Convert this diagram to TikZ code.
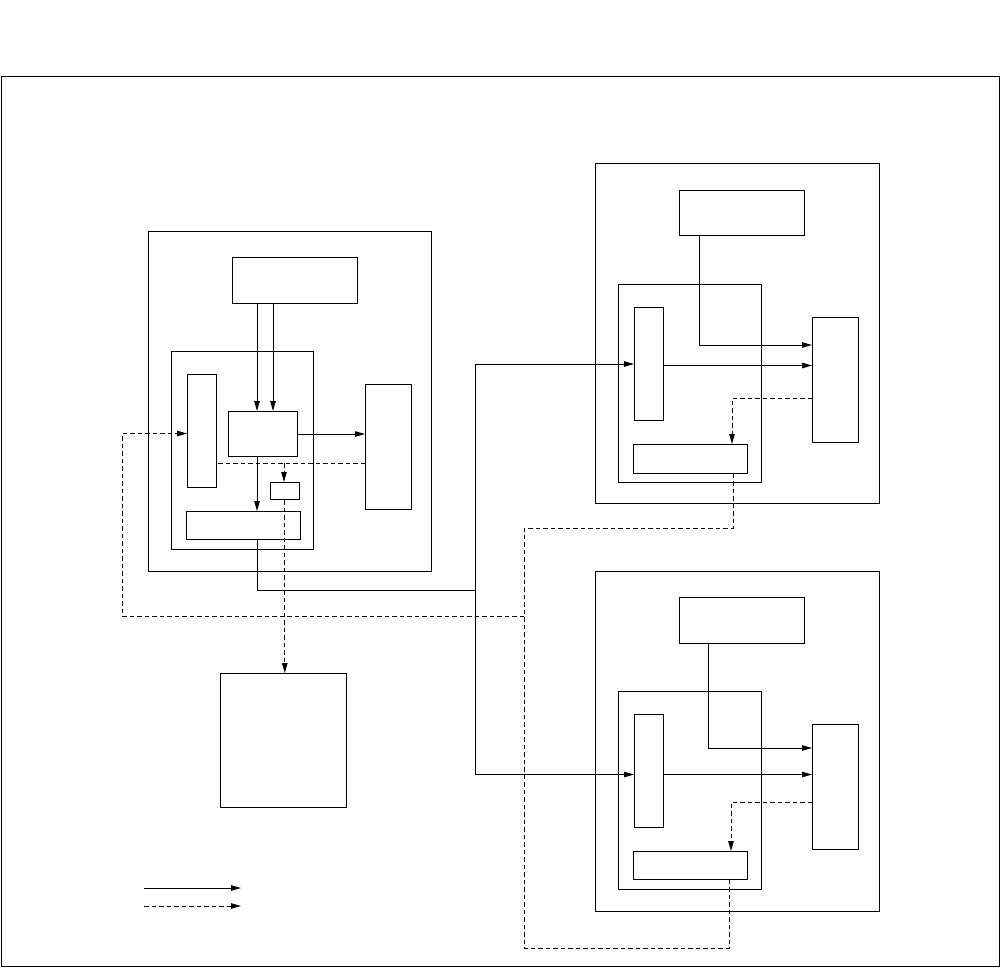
\documentclass[tikz,border=0pt]{standalone}
\usetikzlibrary{arrows.meta}
\begin{document}
\begin{tikzpicture}[x=1pt,y=-1pt,
  box/.style={draw,line width=1pt,inner sep=0pt,anchor=north west},
  conn/.style={line width=1pt},
  arr/.style={conn,-{Triangle[length=10pt,width=5.5pt]}},
  dsh/.style={dash pattern=on 4.5pt off 3pt}]
\useasboundingbox (0,0) rectangle (1000,967);
\node[box,minimum width=998.3pt,minimum height=889.5pt] (frame) at (0.7,76) {};
% left group
\node[box,minimum width=283pt,minimum height=340pt] (L1) at (148,231) {};
\node[box,minimum width=125pt,minimum height=46pt] (Ltop) at (232,257) {};
\node[box,minimum width=142pt,minimum height=198pt] (Lin) at (171,351) {};
\node[box,minimum width=28.5pt,minimum height=113pt] (La) at (187,374) {};
\node[box,minimum width=68.5pt,minimum height=45pt] (Lc) at (228,411) {};
\node[box,minimum width=45.5pt,minimum height=125pt] (Lr) at (365,384) {};
\node[box,minimum width=28.5pt,minimum height=17pt] (Ls) at (270,482) {};
\node[box,minimum width=113.5pt,minimum height=28pt] (Lb) at (186,511) {};
\node[box,minimum width=126pt,minimum height=134pt] (Bl) at (219.5,673) {};
% upper right group
\node[box,minimum width=283.5pt,minimum height=340pt] (U1) at (595,163) {};
\node[box,minimum width=124.5pt,minimum height=45pt] (Utop) at (679,190) {};
\node[box,minimum width=142.5pt,minimum height=198pt] (Uin) at (618,284) {};
\node[box,minimum width=28.5pt,minimum height=113pt] (Ua) at (634,307) {};
\node[box,minimum width=45.5pt,minimum height=124.5pt] (Ur) at (812,317) {};
\node[box,minimum width=113.5pt,minimum height=28.5pt] (Ub) at (633,444) {};
% lower right group
\node[box,minimum width=283.5pt,minimum height=340pt] (D1) at (595,571) {};
\node[box,minimum width=124.5pt,minimum height=46pt] (Dtop) at (679,597) {};
\node[box,minimum width=142.5pt,minimum height=198pt] (Din) at (618,691) {};
\node[box,minimum width=28.5pt,minimum height=113pt] (Da) at (634,714) {};
\node[box,minimum width=45.5pt,minimum height=125pt] (Dr) at (812,724) {};
\node[box,minimum width=113.5pt,minimum height=28pt] (Db) at (633,851) {};
% junction coordinates
\coordinate (lj) at (284,463);
\coordinate (sj) at (475,590);
\coordinate (dj1) at (524,528);
\coordinate (dj2) at (524,948);
\coordinate (dj3) at (524,616);
\coordinate (dl) at (122,616);
\coordinate (lg1a) at (144,888);
\coordinate (lg1b) at (241,888);
\coordinate (lg2a) at (144,906);
\coordinate (lg2b) at (241,906);
% left group connectors
\draw[arr] ([xshift=25pt]Ltop.south west) -- ([xshift=25pt]Ltop.south west |- Lc.north);
\draw[arr] ([xshift=41pt]Ltop.south west) -- ([xshift=41pt]Ltop.south west |- Lc.north);
\draw[arr] (Lc.east) -- (Lc.east -| Lr.west);
\draw[arr] ([xshift=29pt]Lc.south west) -- ([xshift=29pt]Lc.south west |- Lb.north);
\draw[conn,dsh] (lj -| Lr.west) -- (lj -| La.east);
\draw[arr,dsh] (lj) -- (lj |- Ls.north);
\draw[arr,dsh] (Ls.south) -- (Ls.south |- Bl.north);
% solid bus
\draw[conn] ([xshift=71pt]Lb.south west) |- (sj);
\draw[arr] (sj) |- (Ua.west);
\draw[arr] (sj) |- ([yshift=-3.5pt]Da.west);
% upper right connectors
\draw[arr] ([xshift=20pt]Utop.south west) |- ([yshift=-28pt]Ur.north west);
\draw[arr] ([yshift=-1.5pt]Ua.east) -- ([yshift=-1.5pt]Ua.east -| Ur.west);
\draw[arr,dsh] ([yshift=-81pt]Ur.north west) -| ([xshift=99pt]Ub.north west);
% lower right connectors
\draw[arr] ([xshift=29pt]Dtop.south west) |- ([yshift=-24pt]Dr.north west);
\draw[arr] ([yshift=-3.5pt]Da.east) -- ([yshift=-3.5pt]Da.east -| Dr.west);
\draw[arr,dsh] ([yshift=-78pt]Dr.north west) -| ([xshift=98pt]Db.north west);
% dashed network
\draw[conn,dsh] ([xshift=100pt]Ub.south west) |- (dj1) -- (dj2) -| ([xshift=96pt]Db.south west);
\draw[arr,dsh] (dj3) -- (dl) |- ([yshift=-2.5pt]La.west);
% legend
\draw[arr] (lg1a) -- (lg1b);
\draw[arr,dsh] (lg2a) -- (lg2b);
\end{tikzpicture}
\end{document}
